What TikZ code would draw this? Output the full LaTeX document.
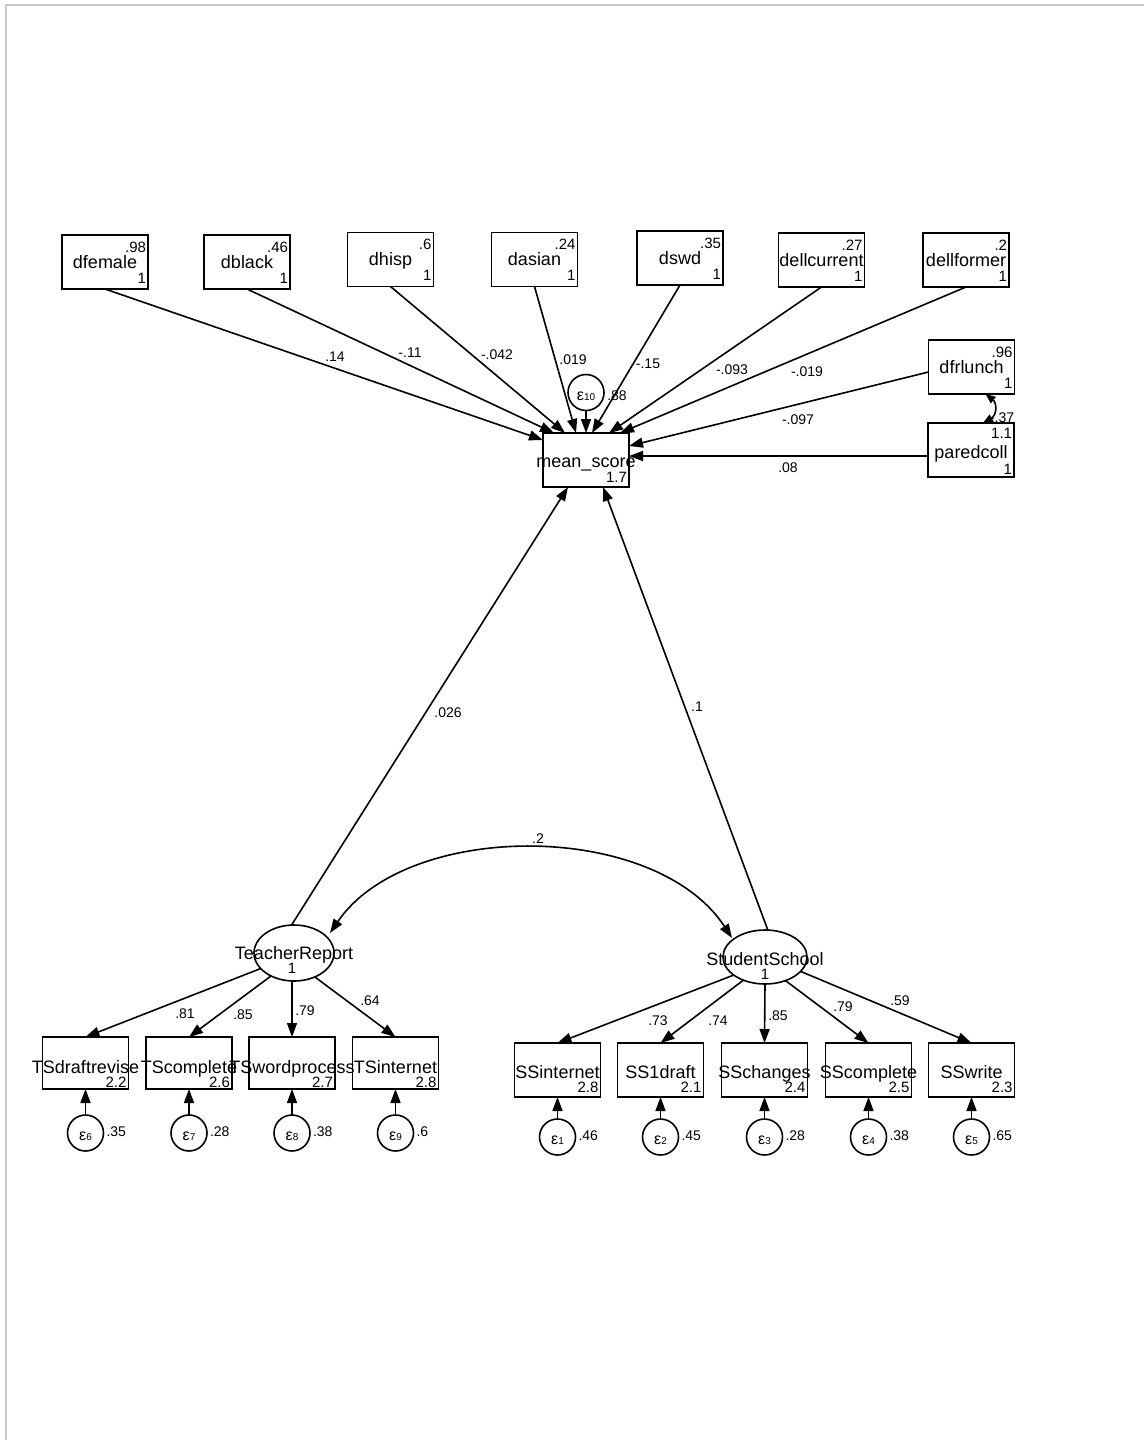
\documentclass[tikz,border=0pt]{standalone}
\usepackage{fontspec}
\setmainfont{Liberation Sans}
\usetikzlibrary{arrows.meta,shapes.geometric,calc}
\definecolor{bordergray}{RGB}{200,200,200}
\tikzset{
  every node/.style={inner sep=0pt, outer sep=0pt},
  obs/.style={draw, line width=1.6pt, minimum width=86pt, minimum height=54pt},
  lat/.style={draw, ellipse, line width=1.6pt},
  err/.style={draw, circle, line width=1.6pt, minimum size=36pt},
  txt/.style={font=\fontsize{18}{18}\selectfont, text height=12.9pt, text depth=0pt},
  num/.style={font=\fontsize{15}{15}\selectfont, text height=10.7pt, text depth=0pt},
  elab/.style={font=\fontsize{14}{14}\selectfont, text height=10pt, text depth=0pt},
  arr/.style={line width=1.6pt, -{Triangle[length=14pt,width=10pt]}},
  darr/.style={line width=1.6pt, {Triangle[length=14pt,width=10pt]}-{Triangle[length=14pt,width=10pt]}},
  sarr/.style={line width=1.6pt, {Triangle[length=10pt,width=8pt]}-{Triangle[length=10pt,width=8pt]}},
}
\newcommand\eps[1]{{\fontsize{16}{16}\selectfont ε}{\fontsize{10}{10}\selectfont #1}}
\begin{document}
\begin{tikzpicture}[x=1pt,y=-1pt]
\useasboundingbox (0,0) rectangle (1144,1440);
\draw[bordergray, line width=1.5pt] (6,1440) -- (6,5) -- (1144,5);

% top row observed exogenous variables
\node[obs] (dfemale) at (105,262) {};
\node[obs] (dblack) at (247,262) {};
\node[obs] (dhisp) at (390.5,259.5) {};
\node[obs] (dasian) at (534.5,259.5) {};
\node[obs] (dswd) at (680,258) {};
\node[obs] (dellcurrent) at (821.5,260) {};
\node[obs] (dellformer) at (966,260) {};
\node[obs] (dfrlunch) at (971.5,367) {};
\node[obs] (paredcoll) at (971,450) {};
\node[obs] (ms) at (586,460) {};

\foreach \b/\t/\m in {dfemale/dfemale/.98, dblack/dblack/.46, dhisp/dhisp/.6, dasian/dasian/.24,
  dswd/dswd/.35, dellcurrent/dellcurrent/.27, dellformer/dellformer/.2, dfrlunch/dfrlunch/.96}{
  \node[txt] (\b-t) at (\b.center) {\t};
  \node[num, anchor=east] (\b-m) at ($(\b.north east)+(-2,12)$) {\m};
  \node[num, anchor=east] (\b-v) at ($(\b.south east)+(-2,-11)$) {1};
}
\node[txt] (paredcoll-t) at ($(paredcoll.center)+(0,2)$) {paredcoll};
\node[num, anchor=east] (paredcoll-m) at ($(paredcoll.north east)+(-2,10)$) {1.1};
\node[num, anchor=east] (paredcoll-v) at ($(paredcoll.south east)+(-2,-8)$) {1};
\node[txt] (ms-t) at ($(ms.center)+(0,1)$) {mean\_score};
\node[num, anchor=east] (ms-v) at ($(ms.south east)+(-2,-10)$) {1.7};

% error of mean_score
\node[err] (e10) at (586,392.5) {};
\node (e10-t) at ($(e10.center)+(0,4)$) {\eps{10}};
\node[elab] (e10-l) at (617,395) {.88};
\draw[arr] (e10.south) -- (ms.north);

% paths into mean_score
\draw[arr] (dfemale.south) -- ($(ms.north west)+(0,7)$);
\draw[arr] (dblack.south) -- ($(ms.north west)+(11,0)$);
\draw[arr] (dhisp.south) -- ($(ms.north west)+(22,0)$);
\draw[arr] (dasian.south) -- ($(ms.north west)+(33,0)$);
\draw[arr] (dswd.south) -- ($(ms.north)+(6,0)$);
\draw[arr] (dellcurrent.south) -- ($(ms.north)+(23,0)$);
\draw[arr] (dellformer.south) -- ($(ms.north)+(34,0)$);
\draw[arr] ($(dfrlunch.west)+(0,5)$) -- ($(ms.north east)+(0,13)$);
\draw[arr] ($(paredcoll.west)+(0,6)$) -- ($(ms.east)+(0,-4)$);
\draw[sarr] ($(dfrlunch.south)+(14,0)$) .. controls (997,403) and (997,415) .. ($(paredcoll.north)+(12,0)$);

\node[elab] (l1) at (335,356) {.14};
\node[elab] (l2) at (410,352) {-.11};
\node[elab] (l3) at (497,354) {-.042};
\node[elab] (l4) at (573,359) {.019};
\node[elab] (l5) at (648,363) {-.15};
\node[elab] (l6) at (732,369) {-.093};
\node[elab] (l7) at (807,371) {-.019};
\node[elab] (l8) at (798,419) {-.097};
\node[elab] (l9) at (788,467) {.08};
\node[elab] (l10) at (1002,417) {-.37};

% latent variables
\node[lat, minimum width=80pt, minimum height=56pt] (TR) at (294,953) {};
\node[txt] (TR-t) at (TR.center) {TeacherReport};
\node[num] (TR-v) at ($(TR.center)+(-2,15)$) {1};
\node[lat, minimum width=84pt, minimum height=54pt] (SS) at (765,957) {};
\node[txt] (SS-t) at ($(SS.center)+(0,2)$) {StudentSchool};
\node[num] (SS-v) at ($(SS.center)+(0,17)$) {1};

\draw[arr] (TR.95) -- ($(ms.south)+(-18,0)$);
\draw[arr] (SS.84) -- ($(ms.south)+(17,0)$);
\node[elab] (l11) at (448,712) {.026};
\node[elab] (l12) at (697,706) {.1};

\draw[darr] ($(TR.center)+(36,-20)$) .. controls (407,820) and (655,820) .. ($(SS.center)+(-33,-19)$);
\node[elab] (l13) at (538,838) {.2};

% TeacherReport indicators
\foreach \b/\x/\m/\e/\ev in {TSdraftrevise/85.5/2.2/6/.35, TScomplete/189/2.6/7/.28,
   TSwordprocess/292/2.7/8/.38, TSinternet/395.5/2.8/9/.6}{
  \node[obs, minimum height=52pt] (\b) at (\x,1063) {};
  \node[txt] (\b-t) at ($(\b.center)+(0,4)$) {\b};
  \node[num, anchor=east] (\b-v) at ($(\b.south east)+(-2,-7)$) {\m};
  \node[err] (e\e) at (\x,1133) {};
  \node (e\e-t) at ($(e\e.center)+(0,3)$) {\eps{\e}};
  \node[elab, anchor=west] (e\e-l) at ($(e\e.east)+(3,-2)$) {\ev};
  \draw[arr] (e\e.north) -- (\b.south);
}
\draw[arr] (TR.205) -- (TSdraftrevise.north);
\draw[arr] (TR.225) -- (TScomplete.north);
\draw[arr] (TR.266) -- (TSwordprocess.north);
\draw[arr] (TR.311) -- (TSinternet.north);
\node[elab] (l14) at (185,1013) {.81};
\node[elab] (l15) at (243,1014) {.85};
\node[elab] (l16) at (305,1010) {.79};
\node[elab] (l17) at (370,1000) {.64};

% StudentSchool indicators
\foreach \b/\x/\m/\e/\ev in {SSinternet/557.5/2.8/1/.46, SS1draft/660.5/2.1/2/.45,
   SSchanges/764.5/2.4/3/.28, SScomplete/868.5/2.5/4/.38, SSwrite/971.5/2.3/5/.65}{
  \node[obs] (\b) at (\x,1070) {};
  \node[txt] (\b-t) at ($(\b.center)+(0,2)$) {\b};
  \node[num, anchor=east] (\b-v) at ($(\b.south east)+(-2,-10)$) {\m};
  \node[err] (e\e) at (\x,1137) {};
  \node (e\e-t) at ($(e\e.center)+(0,3)$) {\eps{\e}};
  \node[elab, anchor=west] (e\e-l) at ($(e\e.east)+(3,-2)$) {\ev};
  \draw[arr] (e\e.north) -- (\b.south);
}
\draw[arr] (SS.210) -- (SSinternet.north);
\draw[arr] (SS.227) -- (SS1draft.north);
\draw[arr] (SS.270) -- (SSchanges.north);
\draw[arr] (SS.311) -- (SScomplete.north);
\draw[arr] (SS.338) -- (SSwrite.north);
\node[elab] (l18) at (658,1020) {.73};
\node[elab] (l19) at (718,1020) {.74};
\node[elab] (l20) at (778,1015) {.85};
\node[elab] (l21) at (843,1006) {.79};
\node[elab] (l22) at (900,1000) {.59};
\end{tikzpicture}
\end{document}
